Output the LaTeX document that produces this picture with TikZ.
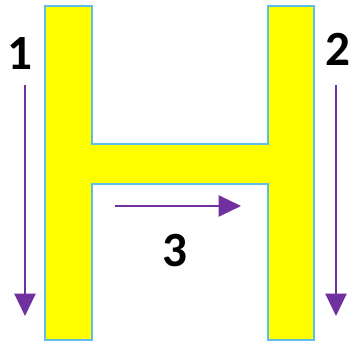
\documentclass[tikz,border=0pt]{standalone}
\usepackage{fontspec}
\setmainfont{Carlito}
\usetikzlibrary{arrows.meta}
\definecolor{hyellow}{HTML}{FFFF00}
\definecolor{hblue}{HTML}{5DBDEB}
\definecolor{hpurple}{HTML}{7030A0}

\begin{document}
\begin{tikzpicture}[x=0.03cm, y=-0.03cm,
  letter/.style={draw=hblue, fill=hyellow, line width=1.6pt, line join=miter},
  dir/.style={draw=hpurple, line width=1.5pt, -{Triangle[length=19pt, width=18pt]}},
  num/.style={font=\fontsize{42}{42}\selectfont\bfseries, inner sep=0pt}]
\useasboundingbox (0,0) rectangle (354,347);
% the letter H
\draw[letter] (45,6) -- (92,6) -- (92,144) -- (268,144) -- (268,6) -- (314,6)
  -- (314,340) -- (268,340) -- (268,184) -- (92,184) -- (92,340) -- (45,340) -- cycle;
% stroke order
\coordinate (s1) at (25,85);  \coordinate (e1) at (25,316);
\coordinate (s2) at (336,85); \coordinate (e2) at (336,316);
\coordinate (s3) at (115,206); \coordinate (e3) at (241,206);
\draw[dir] (s1) -- (e1);
\draw[dir] (s2) -- (e2);
\draw[dir] (s3) -- (e3);
\node[num] (n1) at (20,54) {1};
\node[num] (n2) at (338,49) {2};
\node[num] (n3) at (175,251) {3};
\end{tikzpicture}
\end{document}
